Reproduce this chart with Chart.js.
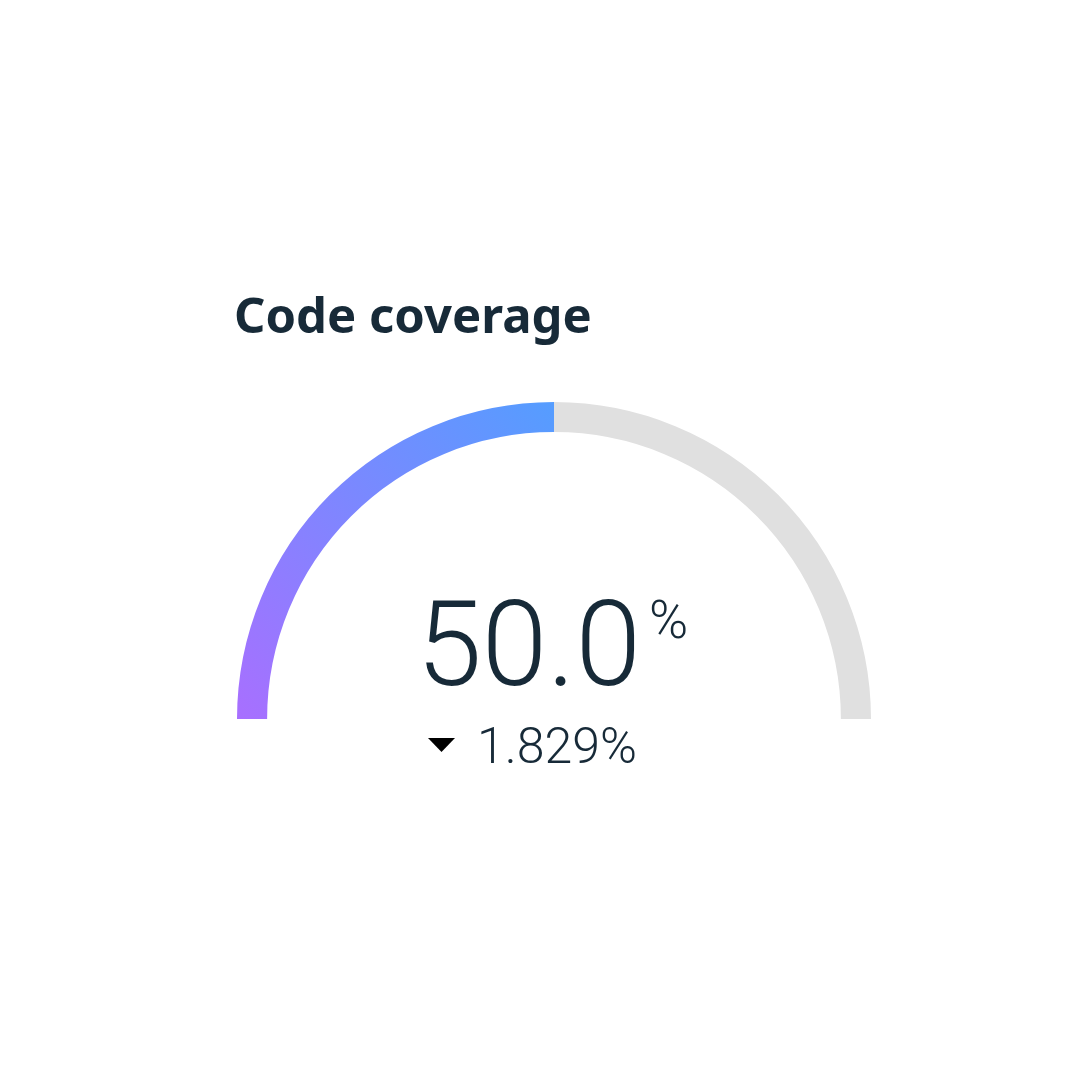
<!DOCTYPE html>
<html>
<head>
<meta charset="utf-8">
<script src="https://cdn.jsdelivr.net/npm/chart.js@4"></script>
<style>
html,body{margin:0;padding:0;background:#fff;}
#wrap{width:1088px;height:1088px;}
</style>
</head>
<body>
<div id="wrap"><canvas id="c" width="1088" height="1088"></canvas></div>
<script>
const titleText = "Code coverage";
const categories = ["Covered", "Remaining"];
const values = [50.0, 50.0];
const valueLabel = "50.0";
const deltaValue = "1.829%";
const deltaDirection = "down";

const textColor = "#172a38";

const overlay = {
  id: "overlay",
  afterDatasetsDraw(chart) {
    const arc = chart.getDatasetMeta(0).data[0];
    const cx = arc.x, cy = arc.y;
    const ctx = chart.ctx;
    ctx.save();
    ctx.fillStyle = textColor;
    ctx.textBaseline = "alphabetic";
    // title
    ctx.textAlign = "left";
    ctx.font = "700 49px 'Noto Sans'";
    ctx.fillText(titleText, cx - 320, cy - 386);
    // main value
    ctx.font = "300 118px Roboto";
    ctx.textAlign = "right";
    ctx.fillText(valueLabel, cx + 87, cy - 34);
    ctx.textAlign = "left";
    ctx.font = "300 53px Roboto";
    ctx.fillText("%", cx + 95, cy - 81);
    // delta
    ctx.font = "300 50px Roboto";
    ctx.fillText(deltaValue, cx - 77, cy + 44);
    ctx.fillStyle = "#000";
    ctx.beginPath();
    if (deltaDirection === "down") {
      ctx.moveTo(cx - 126, cy + 19);
      ctx.lineTo(cx - 99, cy + 19);
      ctx.lineTo(cx - 112.5, cy + 33);
    } else {
      ctx.moveTo(cx - 126, cy + 33);
      ctx.lineTo(cx - 99, cy + 33);
      ctx.lineTo(cx - 112.5, cy + 19);
    }
    ctx.closePath();
    ctx.fill();
    ctx.restore();
  }
};

new Chart(document.getElementById("c"), {
  type: "doughnut",
  data: {
    labels: categories,
    datasets: [{
      data: values,
      backgroundColor: (c) => {
        if (c.dataIndex === 1) return "#e0e0e0";
        const chart = c.chart;
        const a = chart.chartArea;
        if (!a || !Number.isFinite(a.left)) return "#7b8cff";
        const r = 317;
        const cx = (a.left + a.right) / 2;
        const cy = (a.top + a.bottom) / 2 + r / 2;
        const g = chart.ctx.createLinearGradient(cx - r, cy, cx, cy - r);
        g.addColorStop(0, "#a86fff");
        g.addColorStop(1, "#559dff");
        return g;
      },
      borderWidth: 0,
      hoverOffset: 0
    }]
  },
  options: {
    responsive: false,
    animation: false,
    rotation: -90,
    circumference: 180,
    radius: 317,
    cutout: "90.5%",
    layout: { padding: { left: 20, top: 33, right: 0, bottom: 0 } },
    plugins: {
      legend: { display: false },
      tooltip: { enabled: false },
      title: { display: false }
    }
  },
  plugins: [overlay]
});
</script>
</body>
</html>
